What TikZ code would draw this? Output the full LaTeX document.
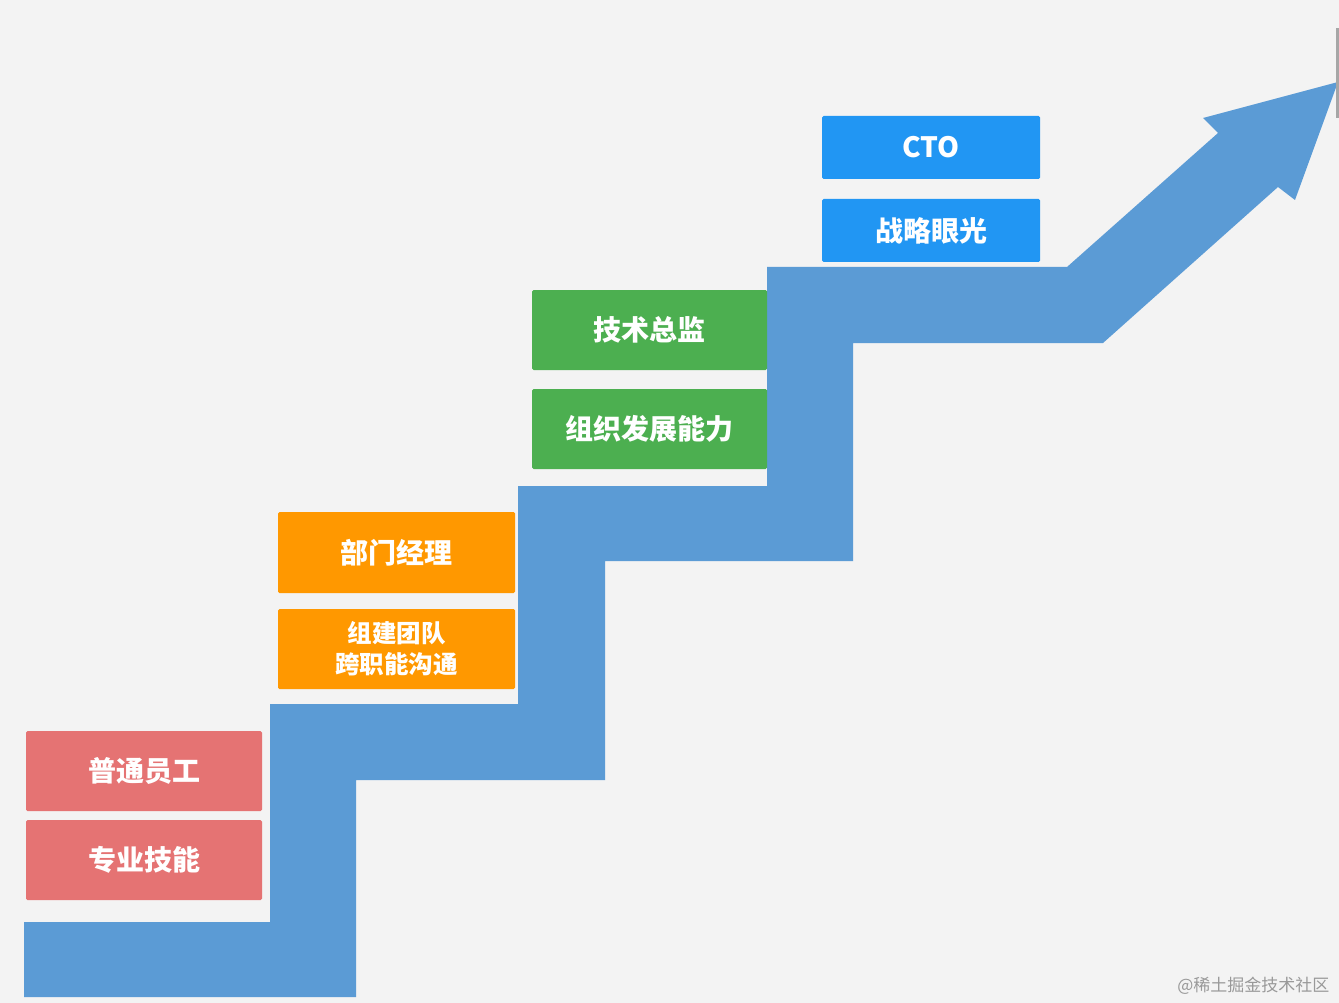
\documentclass[tikz,border=0pt]{standalone}
\usepackage{fontspec}
\setmainfont{Noto Sans CJK SC}
\begin{document}
\begin{tikzpicture}[x=1pt,y=-1pt,
  card/.style={rectangle, rounded corners=1.5pt, inner sep=0pt, text=white,
    font=\bfseries\fontsize{28}{32}\selectfont, align=center},
  redcard/.style={card, fill=redc},
  orangecard/.style={card, fill=orangec},
  greencard/.style={card, fill=greenc},
  bluecard/.style={card, fill=bluec}]
\definecolor{bgc}{HTML}{F3F3F3}
\definecolor{arrowc}{HTML}{5B9BD5}
\definecolor{redc}{HTML}{E57373}
\definecolor{orangec}{HTML}{FF9800}
\definecolor{greenc}{HTML}{4CAF50}
\definecolor{bluec}{HTML}{2196F3}
\fill[bgc] (0,0) rectangle (1339,1003);
\useasboundingbox (0,0) rectangle (1339,1003);
% staircase arrow
\fill[arrowc] (24,922) -- (270,922) -- (270,704) -- (518,704) -- (518,486)
  -- (767,486) -- (767,267) -- (1067,267) -- (1218,133) -- (1203,118)
  -- (1338,82) -- (1295,200) -- (1278,187) -- (1103,343) -- (853,343)
  -- (853,561) -- (605,561) -- (605,780) -- (356,780) -- (356,997)
  -- (24,997) -- cycle;
\fill[gray!70] (1336,28) rectangle (1339,118);
% cards
\node[redcard, minimum width=236, minimum height=80] (r1) at (144,771) {普通员工};
\node[redcard, minimum width=236, minimum height=80] (r2) at (144,860) {专业技能};
\node[orangecard, minimum width=237, minimum height=81] (o1) at (396.5,552.5) {部门经理};
\node[orangecard, minimum width=237, minimum height=80, font=\bfseries\fontsize{24.5}{31}\selectfont] (o2) at (396.5,649) {组建团队\\跨职能沟通};
\node[greencard, minimum width=235, minimum height=80] (g1) at (649.5,330) {技术总监};
\node[greencard, minimum width=235, minimum height=80] (g2) at (649.5,429) {组织发展能力};
\node[bluecard, minimum width=218, minimum height=63] (b1) at (931,147.5) {CTO};
\node[bluecard, minimum width=218, minimum height=63] (b2) at (931,230.5) {战略眼光};
\node[text=gray!80, font=\fontsize{17}{20}\selectfont, anchor=east] (wm) at (1333,986) {@稀土掘金技术社区};
\end{tikzpicture}
\end{document}
